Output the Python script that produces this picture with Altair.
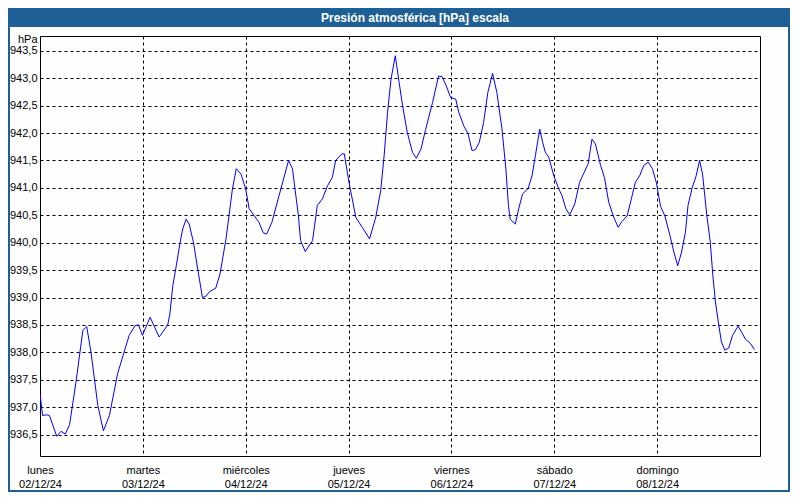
import json
import altair as alt
import pandas as pd

# ---- data ----
hours = [0.0, 0.6, 1.6, 2.2, 3.9, 4.9, 5.9, 6.9, 8.4, 10.0, 10.9, 11.9, 13.5, 14.8, 16.2, 18.1,
         20.8, 22.2, 23.0, 23.9, 25.7, 27.8, 29.8, 30.3, 31.0, 31.8, 32.7, 33.3, 34.1, 34.8,
         35.8, 36.8, 37.9, 38.8, 39.6, 41.0, 42.0, 43.4, 44.9, 45.8, 46.9, 48.0, 48.8, 50.0,
         51.1, 52.1, 52.9, 54.1, 56.2, 58.0, 58.9, 60.3, 60.8, 61.9, 63.6, 64.7, 65.9, 67.1,
         68.2, 69.0, 70.4, 71.0, 72.1, 73.7, 75.2, 76.9, 78.3, 79.5, 80.3, 81.1, 81.9, 82.9,
         83.8, 84.6, 85.7, 86.9, 87.8, 88.9, 90.0, 91.6, 93.0, 93.8, 94.8, 95.8, 97.0, 97.7,
         98.9, 99.9, 100.8, 101.6, 102.5, 103.5, 104.5, 105.6, 106.6, 107.8, 108.7, 109.3,
         109.7, 110.9, 111.7, 112.6, 113.9, 114.8, 115.6, 116.6, 117.3, 117.9, 118.7, 119.9,
         121.0, 121.8, 122.7, 123.6, 124.8, 125.9, 127.9, 128.8, 129.6, 130.8, 131.7, 132.7,
         133.9, 134.9, 135.8, 137.0, 137.8, 138.9, 139.9, 140.9, 141.9, 142.9, 143.8, 144.8,
         145.8, 147.0, 147.9, 148.8, 149.7, 150.6, 151.2, 152.1, 153.1, 153.9, 154.6, 155.6,
         156.4, 157.0, 157.6, 158.4, 159.0, 159.8, 160.7, 161.6, 162.9, 163.7, 164.6, 165.8,
         166.7]
pressure = [937.25, 936.85, 936.86, 936.85, 936.47, 936.56, 936.51, 936.68, 937.46, 938.40,
            938.47, 938.00, 937.03, 936.57, 936.85, 937.61, 938.31, 938.49, 938.50, 938.31,
            938.64, 938.28, 938.50, 938.70, 939.22, 939.58, 940.01, 940.25, 940.43, 940.34,
            940.01, 939.52, 939.00, 939.03, 939.11, 939.17, 939.43, 940.07, 940.98, 941.35,
            941.25, 940.98, 940.62, 940.49, 940.37, 940.18, 940.16, 940.37, 940.98, 941.50,
            941.35, 940.49, 940.04, 939.84, 940.04, 940.68, 940.80, 941.04, 941.19, 941.50,
            941.62, 941.62, 941.10, 940.46, 940.28, 940.07, 940.45, 940.95, 941.59, 942.38,
            942.98, 943.41, 942.92, 942.50, 942.01, 941.65, 941.54, 941.71, 942.07, 942.56,
            943.04, 943.03, 942.86, 942.65, 942.62, 942.38, 942.13, 941.98, 941.68, 941.70,
            941.83, 942.19, 942.74, 943.09, 942.74, 942.07, 941.35, 940.68, 940.43, 940.34,
            940.62, 940.89, 940.99, 941.22, 941.59, 942.07, 941.83, 941.65, 941.56, 941.22,
            940.99, 940.86, 940.62, 940.51, 940.71, 941.10, 941.44, 941.89, 941.80, 941.41,
            941.19, 940.74, 940.46, 940.28, 940.39, 940.49, 940.74, 941.10, 941.22, 941.41,
            941.47, 941.35, 941.10, 940.66, 940.49, 940.13, 939.83, 939.58, 939.83, 940.19,
            940.68, 940.98, 941.22, 941.50, 941.25, 940.49, 940.01, 939.40, 938.92, 938.49,
            938.19, 938.04, 938.08, 938.31, 938.48, 938.37, 938.24, 938.16, 938.05]
day_names = ["lunes", "martes", "miércoles", "jueves", "viernes", "sábado", "domingo"]
day_dates = ["02/12/24", "03/12/24", "04/12/24", "05/12/24", "06/12/24", "07/12/24", "08/12/24"]
day_ticks = [0, 24, 48, 72, 96, 120, 144]
y_ticks = [936.5, 937.0, 937.5, 938.0, 938.5, 939.0, 939.5, 940.0,
           940.5, 941.0, 941.5, 942.0, 942.5, 943.0, 943.5]
title_text = "Presión atmosférica [hPa] escala"
y_unit = "hPa"

df = pd.DataFrame({"h": hours, "p": pressure})
title_df = pd.DataFrame({"t": [title_text]})

W, H = 720, 420
PL, PT, PR, PB = 32, 28, 30, 36
FONT = "Liberation Sans"
BAR = "#1E5F95"

xscale = alt.Scale(domain=[0, 168], nice=False, zero=False)
yscale = alt.Scale(domain=[936.11, 943.77], nice=False, zero=False)

x_label_expr = "[" + json.dumps(day_names) + "[datum.value/24], " + json.dumps(day_dates) + "[datum.value/24]]"
y_label_expr = "replace(format(datum.value, '.1f'), '.', ',')"

border = alt.Chart(title_df).mark_rect(fillOpacity=0, stroke=BAR, strokeWidth=2).encode(
    x=alt.value(-PL + 1), x2=alt.value(W + PR - 1),
    y=alt.value(-PT + 1), y2=alt.value(H + PB - 1),
)
bar = alt.Chart(title_df).mark_rect(color=BAR).encode(
    x=alt.value(-PL), x2=alt.value(W + PR),
    y=alt.value(-PT), y2=alt.value(-PT + 19),
)
title = alt.Chart(title_df).mark_text(
    color="white", font=FONT, fontSize=12, fontWeight="bold", align="center", baseline="middle"
).encode(x=alt.value(375), y=alt.value(-PT + 10), text="t:N")

line = alt.Chart(df).mark_line(color="#0000FF", strokeWidth=1, clip=True).encode(
    x=alt.X("h:Q", scale=xscale, axis=alt.Axis(
        values=day_ticks, labelExpr=x_label_expr, title=None,
        grid=True, gridDash=[3, 3], gridColor="black", gridOpacity=1, gridWidth=1,
        ticks=False, domain=False, labelPadding=8, labelBaseline="top", labelLineHeight=14,
        labelFont=FONT, labelFontSize=11, labelColor="black", labelFlush=False,
        labelOverlap=False, labelBound=False,
    )),
    y=alt.Y("p:Q", scale=yscale, axis=alt.Axis(
        values=y_ticks, labelExpr=y_label_expr,
        grid=True, gridDash=[3, 3], gridColor="black", gridOpacity=1, gridWidth=1,
        ticks=False, domain=False, labelPadding=3,
        labelFont=FONT, labelFontSize=11, labelColor="black", labelOverlap=False,
        labelBaseline="middle",
        title=y_unit, titleAngle=0, titleX=-3, titleY=3, titleAlign="right",
        titleBaseline="middle", titleFont=FONT, titleFontSize=11, titleFontWeight="normal",
        titleColor="black",
    )),
)

chart = alt.layer(border, bar, line, title).properties(
    width=W, height=H,
    padding={"left": PL, "top": PT, "right": PR, "bottom": PB},
    autosize=alt.AutoSizeParams(type="none"),
    background="#FDFEFD",
).configure_view(stroke="black", strokeWidth=1)

chart.save("out.html", embed_options={"renderer": "svg", "actions": False})
